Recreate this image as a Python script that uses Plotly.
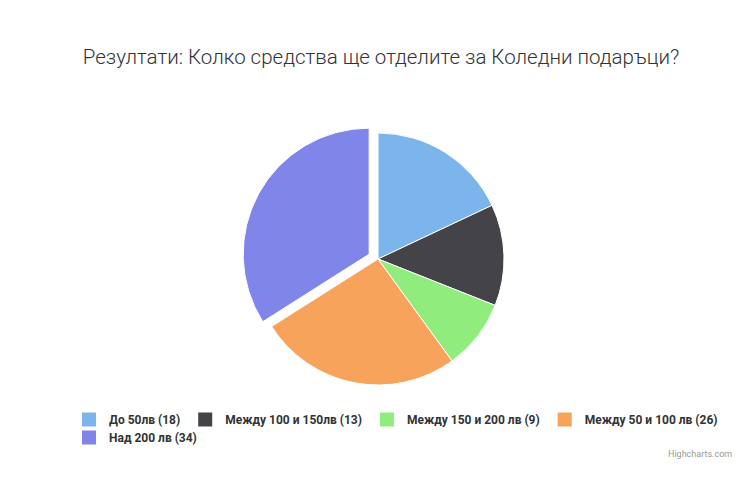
import plotly.graph_objects as go

# Survey data
labels = ["До 50лв", "Между 100 и 150лв", "Между 150 и 200 лв", "Между 50 и 100 лв", "Над 200 лв"]
votes = [18, 13, 9, 26, 34]
colors = ["#7cb5ec", "#434348", "#90ed7d", "#f7a35c", "#8085e9"]
pulled = [0, 0, 0, 0, 0.08]
legend_rows = ["legend", "legend", "legend", "legend", "legend2"]

# page puts the plot 8px in from the top-left corner
OFF = 8
W, H = 750 - OFF, 480 - OFF


def px(x):
    return (x - OFF) / W


def py(y):
    return 1 - (y - OFF) / H


cx, cy, r = 378, 259, 126
half = r * (1 + max(pulled))

names = [f"{lab} ({v})" for lab, v in zip(labels, votes)]

fig = go.Figure()
fig.add_trace(go.Pie(
    labels=names,
    values=votes,
    marker=dict(colors=colors, line=dict(color="white", width=1)),
    pull=pulled,
    sort=False,
    direction="clockwise",
    rotation=0,
    textinfo="none",
    hoverinfo="label+value",
    showlegend=False,
    domain=dict(x=[px(cx - half), px(cx + half)],
                y=[py(cy + half), py(cy - half)]),
))

# legend entries (square swatches), split over two rows like the original
for name, col, lg in zip(names, colors, legend_rows):
    fig.add_trace(go.Scatter(
        x=[None], y=[None], mode="markers", name=name, legend=lg,
        marker=dict(symbol="square", size=14, color=col),
        hoverinfo="skip",
    ))

legend_font = dict(size=12, color="#333333", family="Roboto", weight="bold")

fig.update_layout(
    width=W, height=H,
    margin=dict(l=0, r=0, t=0, b=0),
    paper_bgcolor="white",
    plot_bgcolor="white",
    font=dict(family="Roboto", color="#333333"),
    title=dict(text="Резултати: Колко средства ще отделите за Коледни подаръци?",
               x=px(381), xanchor="center", y=py(57), yanchor="middle",
               font=dict(size=20.5, color="#333333", family="Roboto", weight=300)),
    xaxis=dict(visible=False),
    yaxis=dict(visible=False),
    showlegend=True,
    legend=dict(orientation="h", x=px(69), xanchor="left", y=py(405), yanchor="top",
                bgcolor="rgba(0,0,0,0)", font=legend_font, itemwidth=30,
                traceorder="normal"),
    legend2=dict(orientation="h", x=px(69), xanchor="left", y=py(423), yanchor="top",
                 bgcolor="rgba(0,0,0,0)", font=legend_font, itemwidth=30,
                 traceorder="normal"),
    annotations=[dict(text="Highcharts.com", x=px(734), y=py(454), xref="paper", yref="paper",
                      xanchor="right", yanchor="middle", showarrow=False,
                      font=dict(size=9, color="#999999"))],
)

fig.write_html("out.html")
